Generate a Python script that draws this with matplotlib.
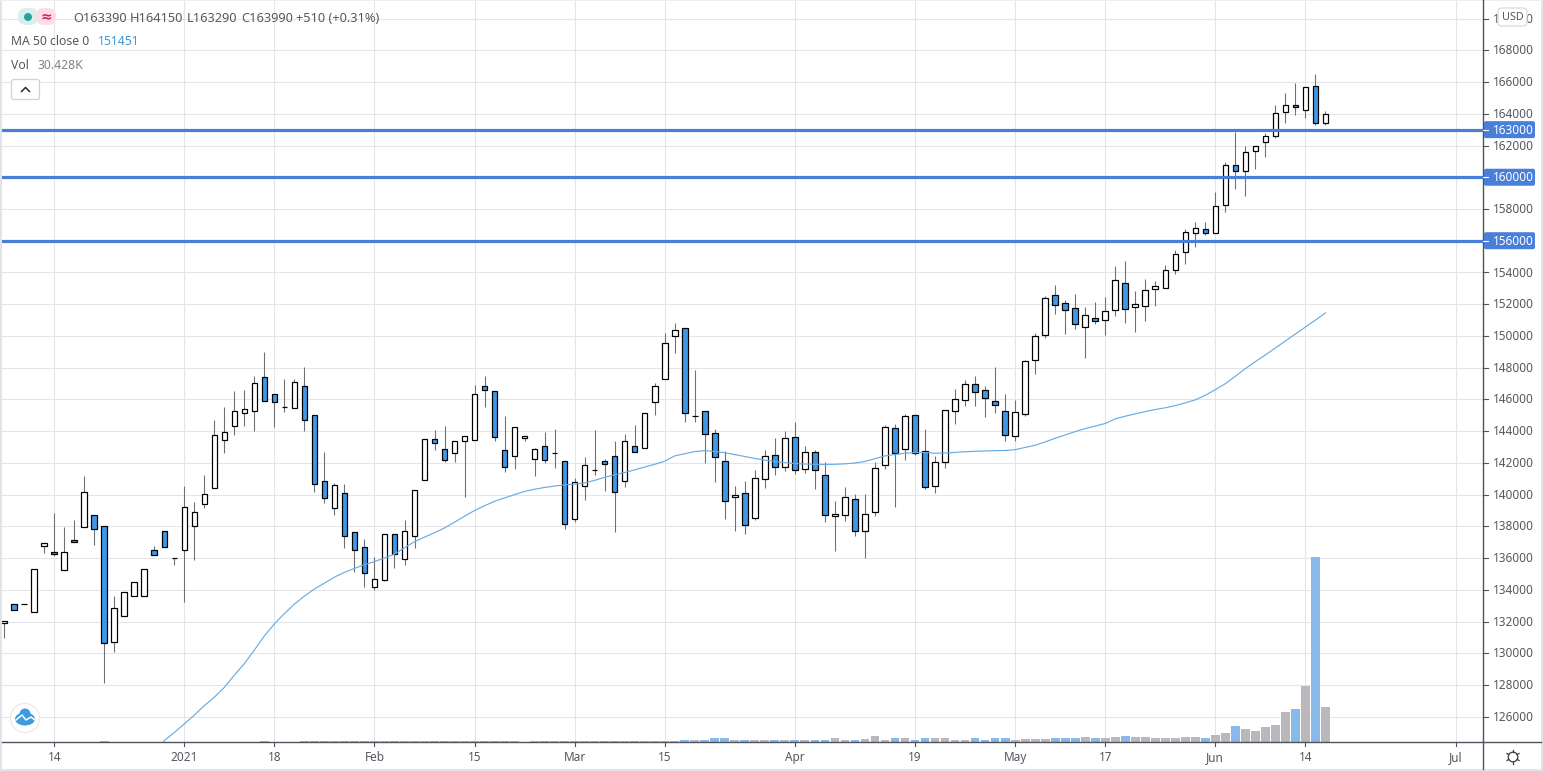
import matplotlib
matplotlib.use("Agg")
import matplotlib.pyplot as plt
from matplotlib.patches import FancyBboxPatch, Circle, Rectangle, Ellipse
import numpy as np

W, H = 1543, 771
FONT = "Noto Sans"
plt.rcParams["font.family"] = [FONT, "DejaVu Sans"]

opens = [131890,133130,133100,132590,136740,136370,135230,137120,137940,138740,
 138050,130700,132330,133590,133590,136490,137730,135990,136490,138000,
 139390,140400,143420,144300,145120,145280,147420,146330,145490,145460,
 146830,145000,140850,139170,140090,137630,136690,134190,134630,137510,
 135950,137400,140930,143490,142860,142630,143390,143450,146850,146520,
 142800,142440,143580,142250,143050,142650,142110,138470,140550,141520,
 142140,142430,140860,143060,142960,145850,147300,150010,150490,144970,
 145290,143880,142120,139870,140100,138550,141000,142490,141760,143630,
 141630,142680,141230,138670,138730,139720,137730,138920,141880,144190,
 142890,145010,142750,140560,142070,145290,145940,146990,146610,145920,
 145290,143670,145100,148460,150080,152600,152090,151780,150540,151150,
 150980,151610,153350,151800,151860,152930,153000,154130,155310,156510,
 156760,156490,158270,160790,160420,161680,162240,162620,164130,164570,
 164260,165770,163390]
highs = [132020,133130,133100,135290,136970,138820,137960,138400,141170,138740,
 138050,133610,133890,134520,135340,136760,137730,135990,140540,139540,
 141240,144700,145500,146530,146590,147500,149010,146330,147310,147310,
 148070,145000,142710,140740,140640,137630,137230,136040,137510,137510,
 138430,140280,143490,144100,144350,143370,143680,146890,147500,146520,
 144980,144250,143700,142950,143950,144160,142110,141060,142400,144090,
 142220,143350,143840,144400,145140,147050,150160,150790,150490,147830,
 145290,144150,142770,140560,140880,141570,142830,143590,144030,144590,
 143080,142830,142050,139620,140460,140060,140060,142050,144400,144470,
 145100,145010,144150,142410,145330,146670,147200,147470,146860,148040,
 146340,145960,148460,150160,152530,153180,152240,152620,151820,152110,
 152430,154400,154700,152810,153560,153440,154440,155390,156760,157160,
 157200,159050,160940,162830,161950,161990,162810,164530,165330,165920,
 165710,166490,164150]
lows = [130990,132710,133080,132590,136340,136160,135230,136990,137940,136850,
 128150,130110,132330,133590,133590,136180,136680,135570,133260,135900,
 139180,140400,142640,143780,144350,143990,145900,144250,145190,145460,
 143990,140190,139460,138700,136620,135110,134170,133980,134550,135360,
 135550,136620,140930,142840,142040,142080,139840,143450,145490,143390,
 141410,141600,143370,141160,141980,141660,137850,138250,139640,141260,
 140230,137640,140480,142700,142960,145010,147300,148920,144570,144570,
 141990,140790,138460,137710,137540,138400,140410,141230,141510,141300,
 141380,140350,138270,136450,138360,137390,136000,138650,141610,139220,
 142180,142510,140370,140080,141670,144450,145600,145600,144910,145160,
 143350,143400,144970,147620,149890,151360,150140,150450,148630,150730,
 150080,151270,150790,150270,150960,151900,153000,153920,154520,155610,
 156380,156490,157810,159240,158800,160500,161260,162450,163400,163920,
 163760,163310,163290]
closes = [132020,132710,133080,135290,136970,136240,136410,136990,140190,137810,
 130630,132880,133890,134520,135340,136180,136680,135990,139240,138930,
 140060,143780,143970,145290,145420,147020,145900,145840,145490,147080,
 144710,140680,139800,140590,137400,136520,135070,134670,137510,136270,
 137700,140280,143490,143260,142190,143370,143680,146350,146600,143640,
 141750,144250,143700,142860,142190,142650,138160,140780,141850,141520,
 141950,140180,143380,142700,145140,146840,149570,150370,145160,144970,
 143840,142390,139620,139990,138100,141040,142430,141760,143560,141570,
 142680,141570,138730,138800,139850,137730,138780,141670,144280,142640,
 144950,142640,140500,142050,145330,146020,146990,146440,146060,145620,
 143730,145220,148400,150010,152410,151920,151610,150730,151340,150920,
 151590,153540,151670,152030,152910,153160,154170,155180,156570,156830,
 156510,158210,160770,160420,161610,161990,162620,164070,164570,164450,
 165710,163410,163990]
volumes_k = [0.3,0.4,0.3,0.5,0.3,0.4,0.4,0.3,0.5,0.5,
 0.8,0.6,0.5,0.4,0.5,0.3,0.4,0.3,0.6,0.5,
 0.4,0.6,0.5,0.5,0.5,0.6,0.7,0.6,0.5,0.6,
 0.7,0.8,0.7,0.7,0.8,0.7,0.8,0.7,0.7,0.7,
 0.8,0.8,0.9,0.7,0.8,0.7,0.7,0.8,0.7,0.9,
 0.9,0.8,0.6,0.7,0.8,0.7,1.0,0.9,0.8,0.7,
 0.8,1.0,0.9,1.0,1.0,1.3,1.5,1.5,2.3,2.3,
 2.3,3.3,3.3,2.3,2.3,2.0,2.0,2.3,2.3,2.3,
 2.3,2.3,2.3,3.3,2.3,2.3,3.0,5.2,2.3,3.3,
 3.3,2.3,3.3,3.3,3.3,2.3,2.3,3.3,2.3,3.3,
 3.3,2.3,3.0,3.0,3.0,3.3,3.3,3.3,4.3,3.3,
 3.3,4.3,5.2,4.6,4.6,3.7,3.7,3.7,4.6,4.6,
 3.7,6.3,8.0,14.0,11.4,9.7,13.1,14.8,25.9,28.5,
 48.5,158.7,30.428]
ma_start = 15
ma50 = [122900,124500,125000,125550,126100,126700,127230,127850,128620,129350,
 130200,131100,131850,132500,133100,133600,134050,134420,134800,135100,
 135350,135580,135780,136000,136250,136650,137030,137320,137600,137900,
 138260,138640,139000,139300,139580,139790,140000,140200,140340,140450,
 140540,140610,140660,140740,140900,141090,141250,141390,141560,141740,
 141910,142110,142440,142580,142710,142770,142720,142640,142520,142400,
 142280,142170,142090,142010,141960,141930,141910,141900,141910,141940,
 141990,142090,142260,142440,142530,142610,142650,142650,142610,142620,
 142660,142700,142730,142750,142770,142780,142830,142970,143110,143320,
 143550,143760,143970,144160,144320,144480,144770,144940,145090,145230,
 145360,145470,145610,145780,145970,146260,146610,146990,147460,147940,
 148380,148800,149240,149680,150120,150560,151000,151451]
levels = [163000, 160000, 156000]
price_ticks = list(range(126000, 172000, 2000))
time_pos = [5, 18, 27, 37, 47, 57, 66, 79, 91, 101, 110, 121, 130, 145]
time_labels = ["14", "2021", "18", "Feb", "15", "Mar", "15", "Apr", "19", "May", "17", "Jun", "14", "Jul"]

BLUE = "#3d98e8"
LINE = "#4a7fd9"
GRID = "#e4e5e9"
TXT = "#55585f"
AX = "#50535e"
FS = 8.5

fig = plt.figure(figsize=(W / 100, H / 100), dpi=100, facecolor="white")

ax = fig.add_axes([0, (H - 742.3) / H, 1483.3 / W, 742.3 / H])
ax.set_xlim((0 - 4.1) / 10.01, (1483.3 - 4.1) / 10.01)
ax.set_ylim(124390, 171170)
ax.set_facecolor("white")
for s in ax.spines.values():
    s.set_visible(False)
ax.set_xticks(time_pos)
ax.set_xticklabels([])
ax.set_yticks(price_ticks)
ax.set_yticklabels([])
ax.tick_params(length=0)
ax.grid(True, color=GRID, lw=0.75)
ax.set_axisbelow(True)

vax = ax.twinx()
vax.set_ylim(0, 634.7)
vax.axis("off")
vax.patch.set_visible(False)
x = np.arange(len(closes))
o, h, l, c = map(np.array, (opens, highs, lows, closes))
down = c < o
vax.bar(x, volumes_k, width=0.88, color=np.where(down, "#8ab9e9", "#b9b9bd"), lw=0, zorder=1)

cax = fig.add_axes(ax.get_position(), sharex=ax)
cax.set_ylim(ax.get_ylim())
cax.axis("off")
cax.patch.set_visible(False)
cax.vlines(x, l, h, color="#707070", lw=0.78, zorder=2)
cax.bar(x, np.abs(c - o), bottom=np.minimum(o, c), width=0.55,
        color=np.where(down, BLUE, "white"), edgecolor="black", lw=0.88, zorder=3)
cax.plot(np.arange(ma_start, ma_start + len(ma50)), ma50, color="#6aace2", lw=0.85, zorder=4)
for lv in levels:
    cax.axhline(lv, color=LINE, lw=2.3, zorder=5)

ov = fig.add_axes([0, 0, 1, 1])
ov.set_xlim(0, W)
ov.set_ylim(H, 0)
ov.axis("off")
ov.patch.set_visible(False)

ov.add_patch(Rectangle((0, 0), 2, H, color="#e2e4ec", lw=0))
ov.add_patch(Rectangle((1541, 0), 2, H, color="#e2e4ec", lw=0))
ov.add_patch(Rectangle((0, 769), W, 2, color="#e2e4ec", lw=0))
ov.add_patch(Rectangle((0, 0), W, 1, color="#eceef2", lw=0))
ov.plot([1483.3, 1483.3], [0, 769], color=AX, lw=1.0)
ov.plot([2, 1541], [742.3, 742.3], color=AX, lw=1.0)

def px_y(p):
    return 50.3 + (168000 - p) * 0.015867

def px_x(i):
    return 4.1 + 10.01 * i

for p in price_ticks:
    y = px_y(p)
    ov.plot([1483, 1488], [y, y], color=AX, lw=0.8)
    if p in levels or p > 168000:
        continue
    ov.text(1493, y + 0.6, str(p), fontsize=FS, color=TXT, va="center", ha="left")
ov.text(1493, px_y(170000) + 0.6, "170000", fontsize=FS, color=TXT, va="center", ha="left")

for i, lab in zip(time_pos, time_labels):
    xx = px_x(i)
    ov.plot([xx, xx], [742, 746], color=AX, lw=0.8)
    ov.text(xx, 757.5, lab, fontsize=FS, color=TXT, va="center", ha="center")

for lv in levels:
    y = px_y(lv)
    ov.plot([1483, 1488], [y, y], color="white", lw=0.8, zorder=6)
    ov.add_patch(FancyBboxPatch((1484, y - 8.5), 51, 17, boxstyle="round,pad=0,rounding_size=2",
                                fc=LINE, ec="none", zorder=5))
    ov.text(1493, y + 0.6, str(lv), fontsize=FS, color="white", va="center", ha="left",
            fontweight="bold", zorder=7)

ov.add_patch(FancyBboxPatch((1498, 8), 29, 18, boxstyle="round,pad=0,rounding_size=4",
                            fc="white", ec="#d8dae0", lw=0.9, zorder=8))
ov.text(1512.5, 17, "USD", fontsize=7.8, color=TXT, va="center", ha="center", zorder=9)

ov.add_patch(Circle((1513, 757), 4.8, fc="none", ec="#3a3c44", lw=0.9))
for a in np.arange(0, 360, 60):
    r = np.deg2rad(a + 30)
    ov.plot([1513 + 4.8 * np.cos(r), 1513 + 7 * np.cos(r)],
            [757 + 4.8 * np.sin(r), 757 + 7 * np.sin(r)], color="#3a3c44", lw=0.9)

ov.add_patch(FancyBboxPatch((18, 8), 20, 17, boxstyle="round,pad=0,rounding_size=8",
                            fc="#d8efeb", ec="none"))
ov.add_patch(FancyBboxPatch((36, 8), 20, 17, boxstyle="round,pad=0,rounding_size=8",
                            fc="#fbdde8", ec="none"))
ov.add_patch(Circle((28, 17), 4, fc="#26a69a", ec="none"))
ov.text(46, 16.5, "≈", fontsize=10, color="#d81b60", va="center", ha="center", fontweight="bold")

for xx, s in [(73, "O163390"), (130, "H164150"), (187, "L163290"), (241, "C163990"), (296, "+510 (+0.31%)")]:
    ov.text(xx, 18.5, s, fontsize=9.2, color=TXT, va="center", ha="left")
ov.text(11, 41.5, "MA 50 close 0", fontsize=8.8, color=TXT, va="center", ha="left")
ov.text(98, 41.5, "151451", fontsize=8.8, color="#3f97d8", va="center", ha="left")
ov.text(11, 65.5, "Vol", fontsize=8.8, color=TXT, va="center", ha="left")
ov.text(37, 65.5, "30.428K", fontsize=8.8, color="#80838b", va="center", ha="left")

ov.add_patch(FancyBboxPatch((11.5, 79.5), 28, 20, boxstyle="round,pad=0,rounding_size=2.5",
                            fc="white", ec="#cfd1d6", lw=0.9))
ov.plot([21.5, 25.5, 29.5], [91.5, 87.5, 91.5], color="#2a2c33", lw=1.1)

ov.add_patch(Circle((25, 718), 14.5, fc="white", ec="#f0e8e4", lw=0.9))
ov.add_patch(Ellipse((25, 719), 20, 13, fc="#3d9be0", ec="none"))
ov.add_patch(Circle((25, 714), 5.5, fc="#3d9be0", ec="none"))
ov.plot([16, 22, 26, 31, 35], [720, 715, 720, 717, 720], color="white", lw=1.1)

fig.savefig("out.png", dpi=100)
